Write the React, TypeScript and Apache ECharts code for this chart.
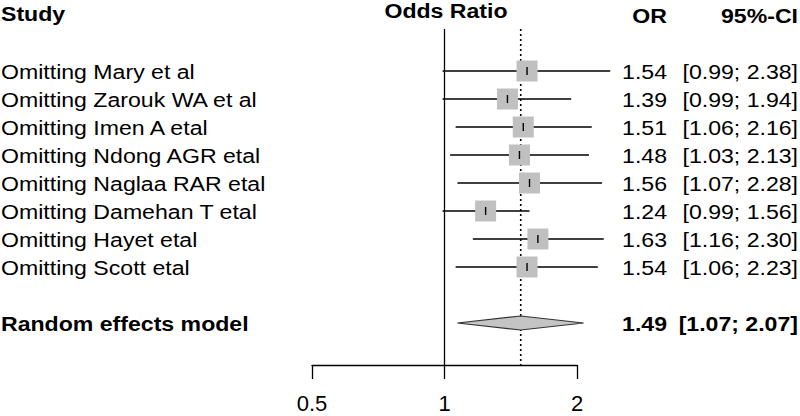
import React, { useEffect, useRef } from "react";
import * as echarts from "echarts";

const studies = [
  "Omitting Mary et al",
  "Omitting Zarouk WA et al",
  "Omitting Imen A etal",
  "Omitting Ndong AGR etal",
  "Omitting Naglaa RAR etal",
  "Omitting Damehan T etal",
  "Omitting Hayet etal",
  "Omitting Scott etal",
];
const orValues = [1.54, 1.39, 1.51, 1.48, 1.56, 1.24, 1.63, 1.54];
const ciLower = [0.99, 0.99, 1.06, 1.03, 1.07, 0.99, 1.16, 1.06];
const ciUpper = [2.38, 1.94, 2.16, 2.13, 2.28, 1.56, 2.30, 2.23];

const pooledLabel = "Random effects model";
const pooledOR = 1.49;
const pooledLower = 1.07;
const pooledUpper = 2.07;
const pooledRow = 9;

const headers = ["Study", "Odds Ratio", "OR", "95%-CI"];
const nullValue = 1;
const xMin = 0.5;
const xMax = 2;

const FONT = "'Liberation Sans', Arial, Helvetica, sans-serif";
const FS = 21;
const SX = 1.1;
const OR_RIGHT = 667;
const CI_RIGHT = 798;

const fmt = (v: number) => v.toFixed(2);
const ciText = (lo: number, hi: number) => `[${fmt(lo)}; ${fmt(hi)}]`;

const txt = (x: number, y: number, text: string, bold: boolean, align: string) => ({
  type: "text",
  x,
  y,
  scaleX: SX,
  style: {
    text,
    font: `${bold ? "bold " : ""}${FS}px ${FONT}`,
    fill: "#000",
    align,
    verticalAlign: "middle",
  },
});

export default function App() {
  const ref = useRef<HTMLDivElement>(null);
  useEffect(() => {
    if (!ref.current) return;
    const chart = echarts.init(ref.current, null, { renderer: "svg" });
    const studyData = studies.map((_, i) => [i, orValues[i], ciLower[i], ciUpper[i]]);

    chart.setOption({
      animation: false,
      textStyle: { fontFamily: FONT },
      grid: { left: 312, right: 223, top: 29, bottom: 51 },
      xAxis: {
        type: "log",
        logBase: 2,
        min: xMin,
        max: xMax,
        axisLine: { show: true, onZero: false, lineStyle: { color: "#000", width: 1.3 } },
        axisTick: { show: true, length: 14, lineStyle: { color: "#000", width: 1.3 } },
        axisLabel: { color: "#000", fontSize: 22, fontFamily: FONT, margin: 27 },
        splitLine: { show: false },
      },
      yAxis: { type: "value", min: -1.5, max: 10.5, inverse: true, show: false },
      graphic: [
        txt(1, 14, headers[0], true, "left"),
        { ...txt(446, 11, headers[1], true, "center") },
        txt(OR_RIGHT, 16, headers[2], true, "right"),
        txt(CI_RIGHT, 16, headers[3], true, "right"),
      ],
      series: [
        {
          type: "line",
          data: [[nullValue, -1.5], [nullValue, 10.5]],
          symbol: "none",
          lineStyle: { color: "#000", width: 1.3 },
          silent: true,
          z: 1,
        },
        {
          type: "line",
          data: [[pooledOR, -1.5], [pooledOR, 10.5]],
          symbol: "none",
          lineStyle: { color: "#000", width: 1.6, type: [2, 3] },
          silent: true,
          z: 1,
        },
        {
          type: "custom",
          z: 3,
          clip: false,
          data: studyData,
          encode: { x: [1, 2, 3], y: 0 },
          renderItem: (params: any, api: any) => {
            const row = api.value(0);
            const c = api.coord([api.value(1), row]);
            const l = api.coord([api.value(2), row]);
            const h = api.coord([api.value(3), row]);
            const i = params.dataIndex;
            const s = 21;
            return {
              type: "group",
              children: [
                { type: "line", shape: { x1: l[0], y1: l[1], x2: h[0], y2: h[1] }, style: { stroke: "#000", lineWidth: 1.4 } },
                { type: "rect", shape: { x: c[0] - s / 2, y: c[1] - s / 2, width: s, height: s }, style: { fill: "#c0c0c0" } },
                { type: "line", shape: { x1: c[0], y1: c[1] - 4, x2: c[0], y2: c[1] + 4 }, style: { stroke: "#000", lineWidth: 1.4 } },
                txt(1, c[1] + 1, studies[i], false, "left"),
                txt(OR_RIGHT, c[1] + 1, fmt(orValues[i]), false, "right"),
                txt(CI_RIGHT, c[1] + 1, ciText(ciLower[i], ciUpper[i]), false, "right"),
              ],
            };
          },
        },
        {
          type: "custom",
          z: 3,
          clip: false,
          data: [[pooledRow, pooledOR, pooledLower, pooledUpper]],
          encode: { x: [1, 2, 3], y: 0 },
          renderItem: (_params: any, api: any) => {
            const row = api.value(0);
            const c = api.coord([api.value(1), row]);
            const l = api.coord([api.value(2), row]);
            const h = api.coord([api.value(3), row]);
            const hh = 7;
            return {
              type: "group",
              children: [
                {
                  type: "polygon",
                  shape: { points: [[l[0], c[1]], [c[0], c[1] - hh], [h[0], c[1]], [c[0], c[1] + hh]] },
                  style: { fill: "#c4c4c4", stroke: "#333", lineWidth: 1.2 },
                },
                txt(1, c[1] + 1, pooledLabel, true, "left"),
                txt(OR_RIGHT, c[1] + 1, fmt(pooledOR), true, "right"),
                txt(CI_RIGHT, c[1] + 1, ciText(pooledLower, pooledUpper), true, "right"),
              ],
            };
          },
        },
      ],
    });
    return () => chart.dispose();
  }, []);
  return <div ref={ref} style={{ width: 800, height: 416, position: "fixed", left: 0, top: 0, background: "#fff" }} />;
}
